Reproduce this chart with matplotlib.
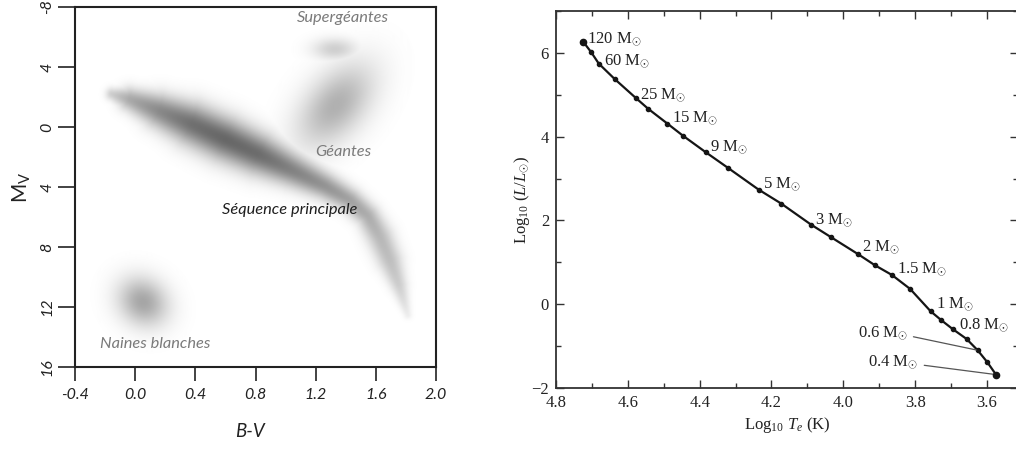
import numpy as np
import matplotlib
matplotlib.use('Agg')
import matplotlib.pyplot as plt
from matplotlib.ticker import MultipleLocator

plt.rcParams['mathtext.fontset'] = 'custom'
plt.rcParams['mathtext.rm'] = 'Liberation Serif'
plt.rcParams['mathtext.it'] = 'Liberation Serif:italic'

# ---------------- Left panel: HR diagram regions ----------------
bv_ticks = [-0.4, 0.0, 0.4, 0.8, 1.2, 1.6, 2.0]
bv_ticklabels = ['-0.4', '0.0', '0.4', '0.8', '1.2', '1.6', '2.0']
mv_ticks = [-8, -4, 0, 4, 8, 12, 16]
mv_ticklabels = ['-8', '4', '0', '4', '8', '12', '16']

# main sequence ridge (B-V, Mv), half-width (px) and density along it
ms_bv = [-0.154, -0.034, 0.165, 0.378, 0.597, 0.817, 1.043, 1.262, 1.428, 1.548, 1.628, 1.694, 1.754, 1.814]
ms_mv = [-2.20, -1.85, -1.07, -0.20, 0.80, 1.80, 2.87, 3.93, 4.87, 5.93, 7.33, 8.87, 10.53, 12.53]
ms_halfwidth = [9, 16, 23, 28, 29, 27, 22, 18, 16, 16, 18, 17, 12, 6]
ms_density = [0.28, 0.48, 0.66, 0.80, 0.85, 0.82, 0.70, 0.60, 0.52, 0.46, 0.40, 0.36, 0.28, 0.10]

# other groups: centre (B-V, Mv), semi-axes (px), angle (deg), density
grp_names = ['Supergéantes', 'Géantes', 'Naines blanches']
grp_bv = [1.328, 1.335, 0.052]
grp_mv = [-5.20, -1.45, 11.67]
grp_a = [30, 66, 36]
grp_b = [15, 39, 31]
grp_angle = [0, 50, -40]
grp_density = [0.27, 0.44, 0.50]

region_labels = ['Supergéantes', 'Géantes', 'Séquence principale', 'Naines blanches']
region_label_bv = [1.38, 1.384, 1.03, 0.132]
region_label_mv = [-7.27, 1.64, 5.53, 14.44]
region_label_colors = ['#7a7a7a', '#7a7a7a', '#1e1e1e', '#7a7a7a']

# ---------------- Right panel: ZAMS track ----------------
log_te = [4.724, 4.702, 4.681, 4.637, 4.577, 4.543, 4.490, 4.447, 4.383, 4.321,
          4.236, 4.173, 4.090, 4.034, 3.960, 3.912, 3.865, 3.814, 3.757, 3.727,
          3.696, 3.657, 3.626, 3.599, 3.575]
log_l = [6.263, 6.016, 5.745, 5.379, 4.918, 4.663, 4.313, 4.026, 3.628, 3.254,
         2.737, 2.403, 1.901, 1.599, 1.201, 0.930, 0.700, 0.365, -0.168, -0.383,
         -0.590, -0.828, -1.099, -1.385, -1.680]
mass_labels = ['120', '60', '25', '15', '9', '5', '3', '2', '1.5', '1', '0.8']
mass_index = [0, 2, 4, 6, 8, 10, 12, 14, 16, 18, 20]
mass_offset_px = [(4, -1.5), (5, -1.5), (4, -0.5), (5, 1.5), (4, 1.5), (4, 1.5),
                  (4, 0.5), (4, 2.5), (5, 1.5), (5, 3.5), (6, 0.5)]
lead_labels = ['0.6', '0.4']
lead_index = [22, 24]
lead_te = [3.960, 3.930]
lead_l = [-0.773, -1.465]

W, H = 1016, 449
fig = plt.figure(figsize=(W / 100, H / 100), dpi=100)

# ----- left axes -----
L_left, L_right, L_top, L_bot = 75, 436, 7, 367
ax1 = fig.add_axes([L_left / W, (H - L_bot) / H, (L_right - L_left) / W, (L_bot - L_top) / H])
xlo, xhi, ylo, yhi = -0.4, 2.0, -8, 16
sx = (L_right - L_left) / (xhi - xlo)
sy = (L_bot - L_top) / (yhi - ylo)
gx = np.linspace(xlo, xhi, 720)
gy = np.linspace(ylo, yhi, 720)
BV, MV = np.meshgrid(gx, gy)
PX, PY = BV * sx, MV * sy


def profile(r):
    return np.exp(-1.9 * r ** 2)


dens = np.zeros_like(PX)
for i in range(len(ms_bv) - 1):
    x0, y0 = ms_bv[i] * sx, ms_mv[i] * sy
    x1, y1 = ms_bv[i + 1] * sx, ms_mv[i + 1] * sy
    dx, dy = x1 - x0, y1 - y0
    t = np.clip(((PX - x0) * dx + (PY - y0) * dy) / (dx * dx + dy * dy), 0, 1)
    d = np.hypot(PX - (x0 + t * dx), PY - (y0 + t * dy))
    w = ms_halfwidth[i] + t * (ms_halfwidth[i + 1] - ms_halfwidth[i])
    inten = ms_density[i] + t * (ms_density[i + 1] - ms_density[i])
    dens = np.maximum(dens, inten * profile(d / w))

for k in range(len(grp_names)):
    cx, cy = grp_bv[k] * sx, grp_mv[k] * sy
    ang = np.deg2rad(grp_angle[k])
    u = (PX - cx) * np.cos(ang) - (PY - cy) * np.sin(ang)
    v = (PX - cx) * np.sin(ang) + (PY - cy) * np.cos(ang)
    r = np.hypot(u / grp_a[k], v / grp_b[k])
    dens = np.maximum(dens, grp_density[k] * profile(r))

gray = 1 - dens * 0.70
ax1.imshow(gray, cmap='gray', vmin=0, vmax=1, extent=(xlo, xhi, yhi, ylo),
           origin='upper', aspect='auto', interpolation='bilinear', zorder=0)
ax1.set_xlim(xlo, xhi)
ax1.set_ylim(yhi, ylo)

for s in ax1.spines.values():
    s.set_linewidth(1.5)
    s.set_color('#222222')
ax1.set_xticks(bv_ticks)
ax1.set_xticklabels(bv_ticklabels, fontstyle='italic', family='Lato', fontsize=11.5, color='#222222')
ax1.set_yticks(mv_ticks)
ax1.set_yticklabels(mv_ticklabels, fontstyle='italic', family='Lato', fontsize=11.5, color='#222222',
                    rotation=90, va='center')
ax1.tick_params(axis='x', direction='out', length=10, width=1.2, pad=5, color='#222222')
ax1.tick_params(axis='y', direction='out', length=12, width=1.2, pad=3, color='#222222')

for txt, bx, my, c in zip(region_labels, region_label_bv, region_label_mv, region_label_colors):
    ax1.text(bx, my, txt, ha='center', va='center', fontsize=11.8, fontstyle='italic',
             family='Lato', color=c)

ax1.text(0.485, -0.155, 'B-V', transform=ax1.transAxes, ha='center', va='top',
         fontsize=13.5, fontstyle='italic', family='Lato', color='#222222')
ax1.text(-0.12, 0.5, r'M$_\mathregular{V}$', transform=ax1.transAxes, ha='right', va='center',
         rotation=90, fontsize=15, family='Lato', color='#222222')

# ----- right axes -----
R_left, R_top, R_bot = 556, 11, 388
px_per_unit = (987 - 556) / 1.2
R_xmin = 3.515
R_right = R_left + (4.8 - R_xmin) * px_per_unit
ax2 = fig.add_axes([R_left / W, (H - R_bot) / H, (R_right - R_left) / W, (R_bot - R_top) / H])
ax2.set_xlim(4.8, R_xmin)
ax2.set_ylim(-2, 7)
ax2.xaxis.set_major_locator(MultipleLocator(0.2))
ax2.xaxis.set_minor_locator(MultipleLocator(0.1))
ax2.yaxis.set_major_locator(MultipleLocator(2))
ax2.yaxis.set_minor_locator(MultipleLocator(1))
ax2.tick_params(which='both', direction='in', top=True, right=True, color='#333333', width=1.0)
ax2.tick_params(which='major', length=6, pad=5)
ax2.tick_params(which='minor', length=3.5)
for s in ax2.spines.values():
    s.set_linewidth(1.3)
    s.set_color('#333333')
for lab in ax2.get_xticklabels() + ax2.get_yticklabels():
    lab.set_family('Liberation Serif')
    lab.set_fontsize(12)
    lab.set_color('#222222')

ax2.plot(log_te, log_l, '-', color='#151515', lw=1.6, marker='o', ms=3.0, zorder=3)
ax2.plot([log_te[0], log_te[-1]], [log_l[0], log_l[-1]], 'o', color='#151515', ms=4.5, zorder=4)

for lab, idx, (ox, oy) in zip(mass_labels, mass_index, mass_offset_px):
    ax2.annotate(lab + r' M$_{\odot}$', xy=(log_te[idx], log_l[idx]),
                 xytext=(ox * 0.72, oy * 0.72), textcoords='offset points',
                 ha='left', va='baseline', fontsize=12, family='Liberation Serif', color='#222222')

for lab, idx, tx, ty in zip(lead_labels, lead_index, lead_te, lead_l):
    ax2.annotate(lab + r' M$_{\odot}$', xy=(log_te[idx], log_l[idx]), xytext=(tx, ty),
                 ha='left', va='baseline', fontsize=12, family='Liberation Serif', color='#222222',
                 arrowprops=dict(arrowstyle='-', color='#555555', lw=0.9, relpos=(1.0, 0.35),
                                 shrinkA=2, shrinkB=1))

ax2.text(0.5, -0.072, r'Log$_{10}$ $T_e$ (K)', transform=ax2.transAxes, ha='center', va='top',
         fontsize=12, family='Liberation Serif', color='#222222')
ax2.text(-0.052, 0.5, r'Log$_{10}$ ($L/L_{\odot}$)', transform=ax2.transAxes, ha='right', va='center',
         rotation=90, fontsize=12, family='Liberation Serif', color='#222222')

fig.savefig('out.png', dpi=100)
